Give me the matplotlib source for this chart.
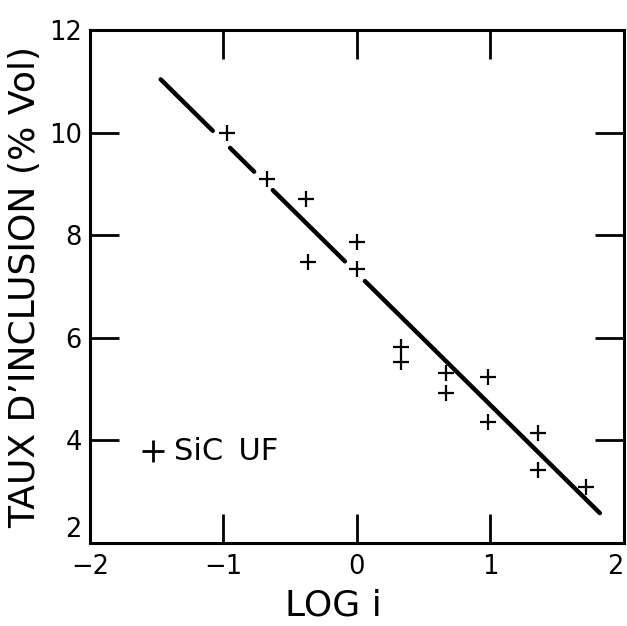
import matplotlib.pyplot as plt
import numpy as np

# inclusion rate vs log of current density, SiC UF particles
log_i = [-0.97, -0.67, -0.38, -0.37, 0.0, 0.0, 0.33, 0.33, 0.67, 0.67, 0.98, 0.98, 1.36, 1.36, 1.72]
taux = [10.0, 9.1, 8.7, 7.48, 7.87, 7.34, 5.82, 5.53, 5.31, 4.92, 5.24, 4.36, 4.14, 3.42, 3.09]

# fitted straight line and where it was left open around the markers
fit_a, fit_b = 7.26, -2.57
fit_range = (-1.47, 1.82)
fit_breaks = [(-1.08, -0.95), (-0.77, -0.63), (-0.09, 0.06)]

x_ticks = [-2, -1, 0, 1, 2]
y_ticks = [2, 4, 6, 8, 10, 12]

plt.rcParams['font.family'] = ['DejaVu Sans']

fig = plt.figure(figsize=(6.27, 6.26), dpi=100)
ax = fig.add_axes([0.1435, 0.1326, 0.8515, 0.8194])

# line pieces between the breaks
edges = [fit_range[0]]
for lo, hi in fit_breaks:
    edges += [lo, hi]
edges.append(fit_range[1])
for k in range(0, len(edges), 2):
    xs = np.array([edges[k], edges[k + 1]])
    ax.plot(xs, fit_a + fit_b * xs, color='black', lw=3.2, solid_capstyle='round')

ax.plot(log_i, taux, linestyle='none', marker='+', color='black',
        markersize=12, markeredgewidth=1.6)

# legend written inside the frame
ax.plot([-1.53], [3.79], linestyle='none', marker='+', color='black',
        markersize=16, markeredgewidth=2.0)
ax.text(-1.37, 3.79, 'SiC\u2002UF', fontsize=22, va='center', ha='left')

ax.set_xlim(-2, 2)
ax.set_ylim(2, 12)
ax.set_xticks(x_ticks)
ax.set_yticks(y_ticks)
ax.tick_params(direction='in', length=21, width=2, top=True, right=True,
               labelsize=18.5, pad=6)
ax.tick_params(axis='x', pad=8)
# keep corner labels clear of each other and of the figure edge
ax.get_xticklabels()[-1].set_horizontalalignment('right')
ax.get_yticklabels()[0].set_verticalalignment('bottom')
for side in ax.spines.values():
    side.set_linewidth(2.2)

ax.set_xlabel('LOG i', fontsize=26, labelpad=6, x=0.455)
ax.set_ylabel('TAUX D’INCLUSION (% Vol)', fontsize=26, labelpad=5)

fig.savefig('out.png', dpi=100)
